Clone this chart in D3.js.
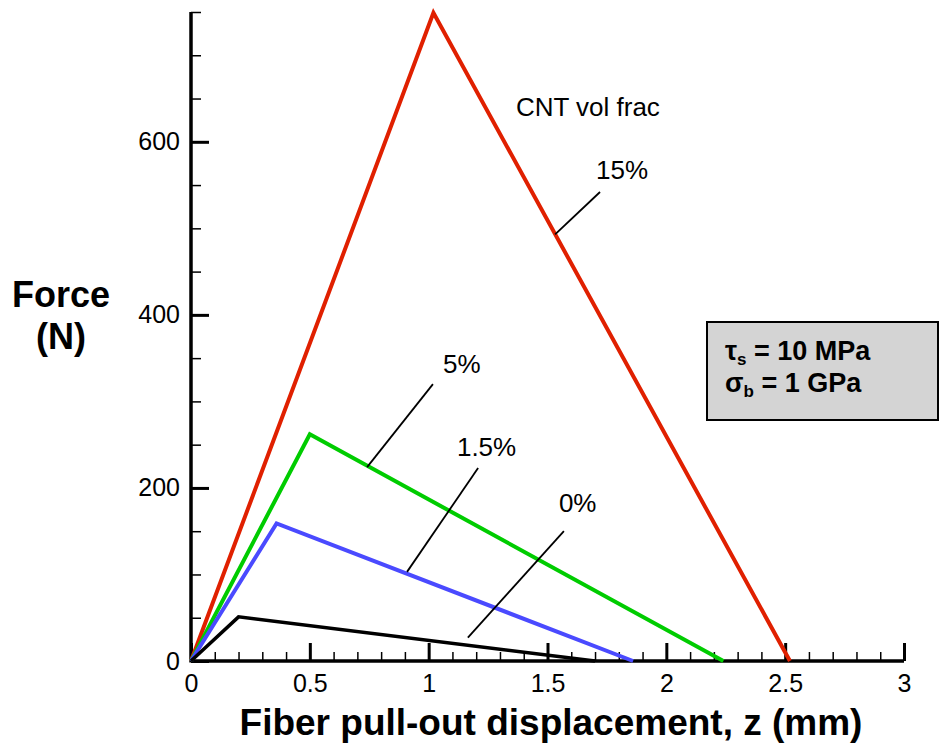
<!DOCTYPE html>
<html>
<head>
<meta charset="utf-8">
<script src="https://cdn.jsdelivr.net/npm/d3@7"></script>
<style>
  body { margin: 0; background: #fff; }
  svg { display: block; font-family: Arial, "Liberation Sans", Helvetica, sans-serif; }
</style>
</head>
<body>
<svg id="chart" width="940" height="745"></svg>
<script>
// ---- data ----
const seriesNames = ["15%", "5%", "1.5%", "0%"];
const seriesColors = ["#e02000", "#00cc00", "#4a4aff", "#000000"];
const red15 = [[0, 0], [1.02, 749], [2.52, 0]];
const green5 = [[0, 0], [0.50, 262], [2.24, 0]];
const blue15 = [[0, 0], [0.36, 159], [1.86, 0]];
const black0 = [[0, 0], [0.20, 51], [1.70, 0]];
const seriesValues = [red15, green5, blue15, black0];

const xMajorTicks = [0, 0.5, 1, 1.5, 2, 2.5, 3];
const xTickLabels = ["0", "0.5", "1", "1.5", "2", "2.5", "3"];
const yMajorTicks = [0, 200, 400, 600];
const yTickLabels = ["0", "200", "400", "600"];

// annotation label positions & leader lines (data coordinates)
const labelPos = [[1.704, 557], [1.060, 333], [1.119, 237], [1.548, 172]];
const leaderLines = [
  [[1.721, 542], [1.532, 493]],
  [[1.018, 320], [0.741, 224]],
  [[1.208, 223], [0.909, 103]],
  [[1.569, 150], [1.165, 27]]
];
const headerText = "CNT vol frac";
const headerPos = [1.367, 630];

// ---- scales ----
const svg = d3.select("#chart");
const x = d3.scaleLinear().domain([0, 3]).range([191, 904]);
const y = d3.scaleLinear().domain([0, 750]).range([661, 12]);

const xMinor = d3.range(0, 3.0001, 0.1).map(v => +v.toFixed(2)).filter(v => !xMajorTicks.some(m => Math.abs(m - v) < 1e-6));
const yMinor = d3.range(0, 750.1, 50).filter(v => !yMajorTicks.includes(v));

// ---- axes ----
// x axis
const xAxisMajor = d3.axisTop(x).tickValues(xMajorTicks).tickSize(18).tickFormat("").tickSizeOuter(0);
const gxMaj = svg.append("g").attr("transform", `translate(0,${y(0)})`).call(xAxisMajor);
gxMaj.select(".domain").remove();
gxMaj.selectAll(".tick line").attr("stroke", "#000").attr("stroke-width", 3);

const xAxisMinor = d3.axisTop(x).tickValues(xMinor).tickSize(9).tickFormat("").tickSizeOuter(0);
const gxMin = svg.append("g").attr("transform", `translate(0,${y(0)})`).call(xAxisMinor);
gxMin.select(".domain").remove();
gxMin.selectAll(".tick line").attr("stroke", "#000").attr("stroke-width", 1.5);

const xAxisLabels = d3.axisBottom(x).tickValues(xMajorTicks).tickSize(0).tickPadding(0)
  .tickFormat((d, i) => xTickLabels[i]);
const gxl = svg.append("g").attr("transform", `translate(0,${y(0)})`).call(xAxisLabels);
gxl.select(".domain").remove();
gxl.selectAll("text").attr("font-size", 25).attr("fill", "#000")
  .attr("dy", null).attr("y", 31).attr("font-family", "Arial, 'Liberation Sans', sans-serif");

// y axis
const yAxisMajor = d3.axisRight(y).tickValues(yMajorTicks).tickSize(18).tickFormat("").tickSizeOuter(0);
const gyMaj = svg.append("g").attr("transform", `translate(${x(0)},0)`).call(yAxisMajor);
gyMaj.select(".domain").remove();
gyMaj.selectAll(".tick line").attr("stroke", "#000").attr("stroke-width", 3);

const yAxisMinor = d3.axisRight(y).tickValues(yMinor).tickSize(10).tickFormat("").tickSizeOuter(0);
const gyMin = svg.append("g").attr("transform", `translate(${x(0)},0)`).call(yAxisMinor);
gyMin.select(".domain").remove();
gyMin.selectAll(".tick line").attr("stroke", "#000").attr("stroke-width", 1.5);

const yAxisLabels = d3.axisLeft(y).tickValues(yMajorTicks).tickSize(0).tickPadding(11)
  .tickFormat((d, i) => yTickLabels[i]);
const gyl = svg.append("g").attr("transform", `translate(${x(0)},0)`).call(yAxisLabels);
gyl.select(".domain").remove();
gyl.selectAll("text").attr("font-size", 25).attr("fill", "#000")
  .attr("font-family", "Arial, 'Liberation Sans', sans-serif");

// axis lines
svg.append("line").attr("x1", x(0)).attr("x2", x(3)).attr("y1", y(0)).attr("y2", y(0))
  .attr("stroke", "#000").attr("stroke-width", 3.5);
svg.append("line").attr("x1", x(0)).attr("x2", x(0)).attr("y1", y(0) + 1.5).attr("y2", y(750))
  .attr("stroke", "#000").attr("stroke-width", 3.5);

// ---- series ----
const line = d3.line().x(d => x(d[0])).y(d => y(d[1]));
seriesValues.forEach((vals, i) => {
  svg.append("path").datum(vals).attr("d", line)
    .attr("fill", "none").attr("stroke", seriesColors[i])
    .attr("stroke-width", i === 3 ? 3.5 : 4)
    .attr("stroke-linejoin", "miter");
});

// ---- annotations ----
svg.append("text").attr("x", x(headerPos[0])).attr("y", y(headerPos[1]))
  .attr("font-size", 26).text(headerText);
seriesNames.forEach((name, i) => {
  svg.append("text").attr("x", x(labelPos[i][0])).attr("y", y(labelPos[i][1]))
    .attr("font-size", 26).text(name);
  svg.append("path").datum(leaderLines[i]).attr("d", line)
    .attr("stroke", "#000").attr("stroke-width", 1.8).attr("fill", "none");
});

// ---- parameter box ----
svg.append("rect").attr("x", 707).attr("y", 322).attr("width", 231).attr("height", 98)
  .attr("fill", "#d4d4d4").attr("stroke", "#000").attr("stroke-width", 2);
const t1 = svg.append("text").attr("x", 725).attr("y", 360).attr("font-size", 27).attr("font-weight", "bold");
t1.append("tspan").text("τ");
t1.append("tspan").attr("font-size", 17).attr("dy", 5).text("s");
t1.append("tspan").attr("dy", -5).text(" = 10 MPa");
const t2 = svg.append("text").attr("x", 725).attr("y", 392).attr("font-size", 27).attr("font-weight", "bold");
t2.append("tspan").text("σ");
t2.append("tspan").attr("font-size", 17).attr("dy", 5).text("b");
t2.append("tspan").attr("dy", -5).text(" = 1 GPa");

// ---- axis titles ----
svg.append("text").attr("x", 551).attr("y", 735).attr("text-anchor", "middle")
  .attr("font-size", 37).attr("font-weight", "bold").text("Fiber pull-out displacement, z (mm)");
svg.append("text").attr("x", 61).attr("y", 307).attr("text-anchor", "middle")
  .attr("font-size", 36).attr("font-weight", "bold").text("Force");
svg.append("text").attr("x", 61).attr("y", 349).attr("text-anchor", "middle")
  .attr("font-size", 36).attr("font-weight", "bold").text("(N)");
</script>
</body>
</html>
